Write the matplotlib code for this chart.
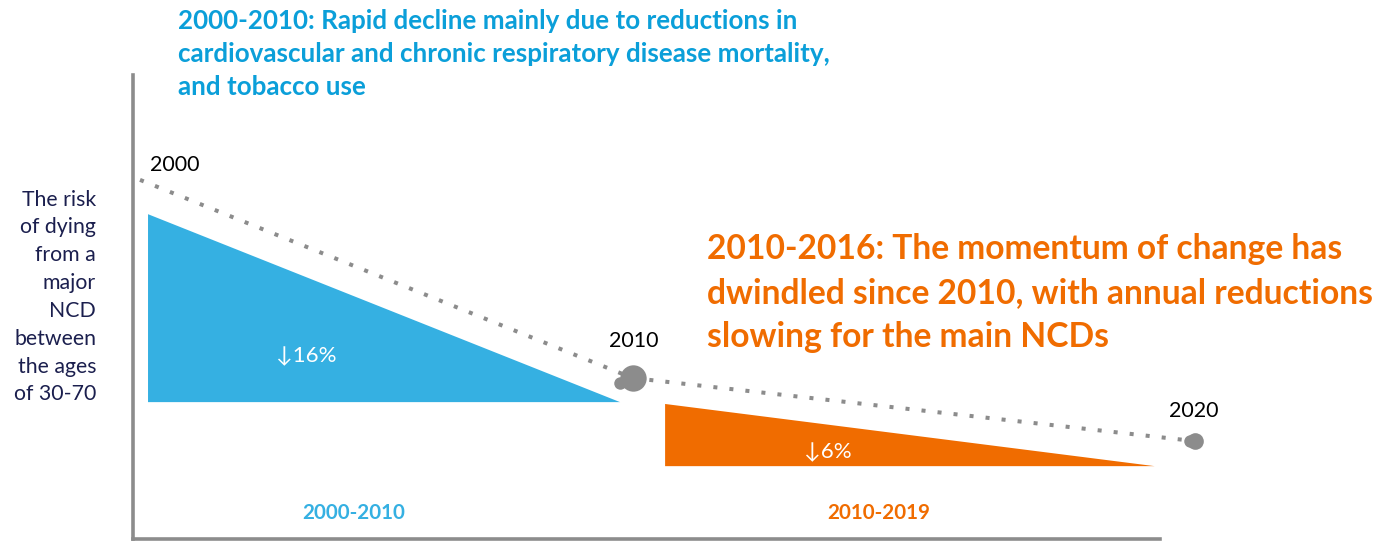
import matplotlib
matplotlib.use("Agg")
import matplotlib.pyplot as plt

plt.rcParams["font.family"] = ["Lato", "DejaVu Sans"]

# schematic units: 0-100 across the plot area on both axes
years = ["2000", "2010", "2020"]
trend_x = [0.56, 39.9, 84.8]
trend_y = [77.4, 34.7, 21.1]
segment_end_x = [38.9, 84.4]
segment_end_y = [33.6, 21.2]

periods = ["2000-2010", "2010-2019"]
period_start = [1.2, 42.5]
period_end = [38.9, 81.6]
period_top = [70.0, 29.1]
period_base = [29.5, 15.7]
period_change = ["↓16%", "↓6%"]

blue = "#35b0e2"
blue_dark = "#0b9fd9"
orange = "#f06c00"
grey = "#8c8c8c"
navy = "#1b1f4e"

W, H = 1385, 541


def fx(x):
    return x / W


def fy(y):
    return 1 - y / H


fig = plt.figure(figsize=(13.85, 5.41), dpi=100)
ax = fig.add_axes([fx(133), fy(539), fx(1385 - 133), (539 - 75) / H])
ax.set_xlim(0, 100)
ax.set_ylim(0, 100)
ax.spines["top"].set_visible(False)
ax.spines["right"].set_visible(False)
for s in ["left", "bottom"]:
    ax.spines[s].set_color(grey)
    ax.spines[s].set_linewidth(2.6)
ax.spines["bottom"].set_bounds(0, 82.0)
ax.set_xticks([])
ax.set_yticks([])

colors = [blue, orange]
label_pos = [(0.335, 0.245), (0.333, 0.226)]
for i in range(2):
    ax.fill([period_start[i], period_start[i], period_end[i]],
            [period_base[i], period_top[i], period_base[i]],
            color=colors[i], lw=0, zorder=2)
    cx = period_start[i] + (period_end[i] - period_start[i]) * label_pos[i][0]
    cy = period_base[i] + (period_top[i] - period_base[i]) * label_pos[i][1]
    ax.text(cx, cy, period_change[i], color="white", fontsize=16,
            family=["Lato", "Noto Sans CJK SC", "DejaVu Sans"],
            ha="center", va="center", zorder=4)
    ax.text((period_start[i] + period_end[i]) / 2 - 2.45, 5.6,
            periods[i], color=colors[i], fontsize=14.9, fontweight="bold",
            ha="center", va="center")

ax.plot(trend_x, trend_y, color=grey, lw=2.9, linestyle=(0, (1, 3)),
        dash_capstyle="butt", zorder=3, clip_on=False)
ax.plot(segment_end_x, segment_end_y, "o", color=grey, ms=9, mew=0, zorder=3, clip_on=False)
ax.plot(trend_x[1], trend_y[1], "o", color=grey, ms=19, mew=0, zorder=3)
ax.plot(trend_x[2], trend_y[2], "o", color=grey, ms=12, mew=0, zorder=3, clip_on=False)

offsets = [(25, 11), (1, 26.6), (-1, 21.6)]
for i, lab in enumerate(years):
    ax.annotate(lab, (trend_x[i], trend_y[i]), xytext=offsets[i],
                textcoords="offset points", ha="center", va="center",
                fontsize=15.4, color="black", annotation_clip=False)

fig.text(fx(96), fy(297),
         "The risk\nof dying\nfrom a\nmajor\nNCD\nbetween\nthe ages\nof 30-70",
         ha="right", va="center", fontsize=15.3, color=navy, linespacing=1.49)

fig.text(fx(178), fy(54),
         "2000-2010: Rapid decline mainly due to reductions in\n"
         "cardiovascular and chronic respiratory disease mortality,\n"
         "and tobacco use",
         ha="left", va="center", fontsize=18.7, fontweight="bold",
         color=blue_dark, linespacing=1.45)

fig.text(fx(707), fy(293),
         "2010-2016: The momentum of change has\n"
         "dwindled since 2010, with annual reductions\n"
         "slowing for the main NCDs",
         ha="left", va="center", fontsize=24.2, fontweight="bold",
         color=orange, linespacing=1.45)

fig.savefig("out.png", dpi=100)
